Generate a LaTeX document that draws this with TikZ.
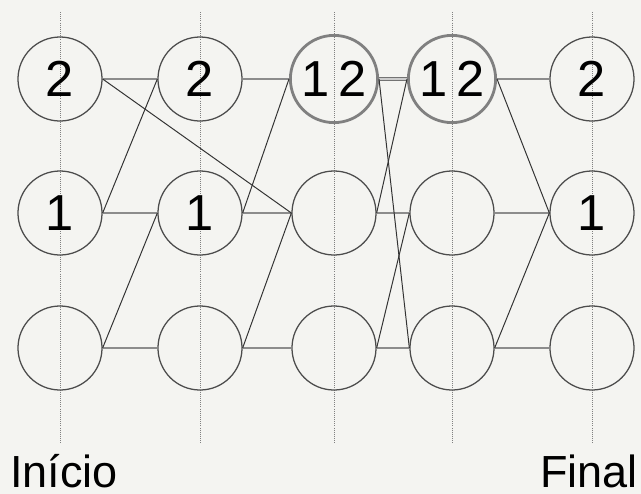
\documentclass[tikz,border=0pt]{standalone}
\usepackage{fontspec}
\setmainfont{Liberation Sans}
\usetikzlibrary{positioning}
\definecolor{papel}{RGB}{244,244,241}
\tikzset{
  st/.style={circle,draw=black!70,line width=0.9pt,minimum size=2.1cm,inner sep=0pt,font=\fontsize{36}{36}\selectfont},
  stx/.style={st,draw=black!50,line width=2pt,minimum size=2.18cm},
  hz/.style={draw=black!45,line width=1.4pt},
  hzd/.style={draw=black!55,double=black!20,line width=0.7pt,double distance=1pt},
  dg/.style={draw=black!80,line width=0.7pt},
  guia/.style={draw=black!50,densely dotted,line width=0.5pt},
  lbl/.style={font=\fontsize{32}{32}\selectfont,inner sep=0pt},
}

\begin{document}
\begin{tikzpicture}[x=0.025cm,y=-0.025cm]
  \fill[papel] (0,0) rectangle (641,494);
  \useasboundingbox (0,0) rectangle (641,494);
  % guide lines
  \foreach \c/\x in {1/60,2/200,3/334,4/452,5/592} {
    \coordinate (t\c) at (\x,12); \coordinate (b\c) at (\x,443);
    \draw[guia] (t\c) -- (b\c);
  }
  % states
  \foreach \c/\x/\ta/\tb in {1/60/2/1,2/200/2/1,5/592/2/1} {
    \node[st] (c\c1) at (\x,79) {\ta};
    \node[st] (c\c2) at (\x,213) {\tb};
    \node[st] (c\c3) at (\x,348) {};
  }
  \foreach \c/\x in {3/334,4/452} {
    \node[stx] (c\c1) at (\x,79) {1\,2};
    \node[st] (c\c2) at (\x,213) {};
    \node[st] (c\c3) at (\x,348) {};
  }
  % horizontal moves
  \foreach \r in {2,3} \foreach \a/\b in {1/2,2/3,3/4,4/5} \draw[hz] (c\a\r.east) -- (c\b\r.west);
  \foreach \a/\b in {1/2,2/3,4/5} \draw[hz] (c\a1.east) -- (c\b1.west);
  \draw[hzd] (c31.east) -- (c41.west);
  % crossings
  \foreach \a/\b in {c12/c21,c11/c32,c13/c22,c22/c31,c23/c32,c32/c41,c31/c43,c33/c42,c41/c52,c43/c52}
    \draw[dg] (\a.east) -- (\b.west);
  \node[lbl,anchor=base west] (ini) at (10,487) {Início};
  \node[lbl,anchor=base east] (fim) at (638,487) {Final};
\end{tikzpicture}
\end{document}
